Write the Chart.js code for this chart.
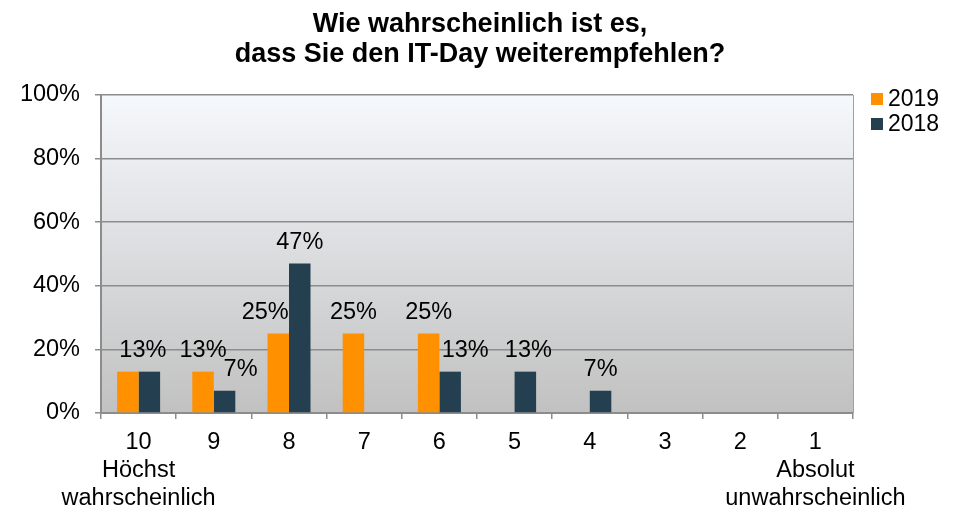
<!DOCTYPE html>
<html><head><meta charset="utf-8">
<script src="https://cdn.jsdelivr.net/npm/chart.js@4"></script>
<style>html,body{margin:0;padding:0;background:#fff}#wrap{width:966px;height:514px}</style>
</head><body><div id="wrap"><canvas id="c" width="966" height="514"></canvas></div>
<script>
const titleLines = ['Wie wahrscheinlich ist es,', 'dass Sie den IT-Day weiterempfehlen?'];
const categories = [['10','Höchst','wahrscheinlich'],'9','8','7','6','5','4','3','2',['1','Absolut','unwahrscheinlich']];
const seriesNames = ['2019', '2018'];
const values2019 = [13, 13, 25, 25, 25, 0, 0, 0, 0, 0];
const values2018 = [13, 7, 47, 0, 13, 13, 7, 0, 0, 0];
const yTickValues = [0, 20, 40, 60, 80, 100];

const FONT = '"Liberation Sans", Arial, sans-serif';
const colors = ['#ff9100', '#233f50'];
// label placement tweaks (pixels relative to bar top centre); null = label hidden
const labelShift = [
  [15, 0, -13, 0, 0, 0, 0, 0, 0, 0],
  [null, 16, 0, 0, 15, 3, 0, 0, 0, 0]
];

const bgPlugin = {
  id: 'bg',
  beforeDraw(chart) {
    const {ctx, chartArea: a} = chart;
    const g = ctx.createLinearGradient(0, a.top, 0, a.bottom);
    g.addColorStop(0, 'rgb(245,248,252)');
    g.addColorStop(1, 'rgb(193,193,193)');
    ctx.save();
    ctx.fillStyle = g;
    ctx.fillRect(a.left, a.top, a.right - a.left, a.bottom - a.top);
    ctx.restore();
  },
  afterDraw(chart) {
    const {ctx, chartArea: a} = chart;
    ctx.save();
    ctx.strokeStyle = '#a0a0a0';
    ctx.lineWidth = 1;
    ctx.beginPath();
    ctx.moveTo(a.right + 0.5, a.top);
    ctx.lineTo(a.right + 0.5, a.bottom);
    ctx.stroke();
    // title
    ctx.fillStyle = '#000';
    ctx.font = 'bold 27px ' + FONT;
    ctx.textAlign = 'center';
    ctx.textBaseline = 'alphabetic';
    titleLines.forEach((t, i) => ctx.fillText(t, 480, 32 + i * 30));
    // legend
    ctx.font = '23px ' + FONT;
    ctx.textAlign = 'left';
    ctx.textBaseline = 'middle';
    chart.data.datasets.forEach((ds, i) => {
      const y = 99 + i * 25;
      ctx.fillStyle = ds.backgroundColor;
      ctx.fillRect(871, y - 6, 12, 12);
      ctx.fillStyle = '#000';
      ctx.fillText(ds.label, 888, y + 1);
    });
    ctx.restore();
  }
};

const labelPlugin = {
  id: 'vlabels',
  afterDatasetsDraw(chart) {
    const ctx = chart.ctx;
    ctx.save();
    ctx.font = '23.5px ' + FONT;
    ctx.fillStyle = '#000';
    ctx.textAlign = 'center';
    ctx.textBaseline = 'alphabetic';
    chart.data.datasets.forEach((ds, di) => {
      const meta = chart.getDatasetMeta(di);
      meta.data.forEach((bar, i) => {
        const v = ds.data[i];
        const dx = labelShift[di][i];
        if (!v || dx === null) return;
        ctx.fillText(Math.round(v) + '%', bar.x + dx, bar.y - 15);
      });
    });
    ctx.restore();
  }
};

new Chart(document.getElementById('c'), {
  type: 'bar',
  data: {
    labels: categories,
    datasets: [
      {label: seriesNames[0], data: values2019, backgroundColor: colors[0]},
      {label: seriesNames[1], data: values2018, backgroundColor: colors[1]}
    ]
  },
  options: {
    responsive: false,
    devicePixelRatio: 1,
    animation: false,
    layout: {padding: {top: 95, right: 113, left: 0, bottom: 0}},
    datasets: {bar: {categoryPercentage: 0.572, barPercentage: 1.0, borderWidth: 0}},
    plugins: {legend: {display: false}, title: {display: false}, tooltip: {enabled: false}},
    scales: {
      x: {
        grid: {display: true, drawOnChartArea: false, drawTicks: true, tickLength: 6, color: '#8c8c8c', lineWidth: 1.5, offset: true},
        border: {display: true, color: '#8c8c8c', width: 2},
        ticks: {autoSkip: false, maxRotation: 0, minRotation: 0, padding: 10, color: '#000',
          font: {family: FONT, size: 23.5, lineHeight: 28/23.5}},
        afterFit(s) { s.height = 101; }
      },
      y: {
        min: 0, max: 100,
        afterBuildTicks(s) { s.ticks = yTickValues.map(v => ({value: v})); },
        grid: {color: '#8c8c8c', lineWidth: 1.5, drawTicks: true, tickLength: 6},
        border: {display: true, color: '#8c8c8c', width: 2},
        ticks: {padding: 15, color: '#000', font: {family: FONT, size: 23.5}, callback: v => v + '%'},
        afterFit(s) { s.width = 101; }
      }
    }
  },
  plugins: [bgPlugin, labelPlugin]
});
</script>
</body></html>
